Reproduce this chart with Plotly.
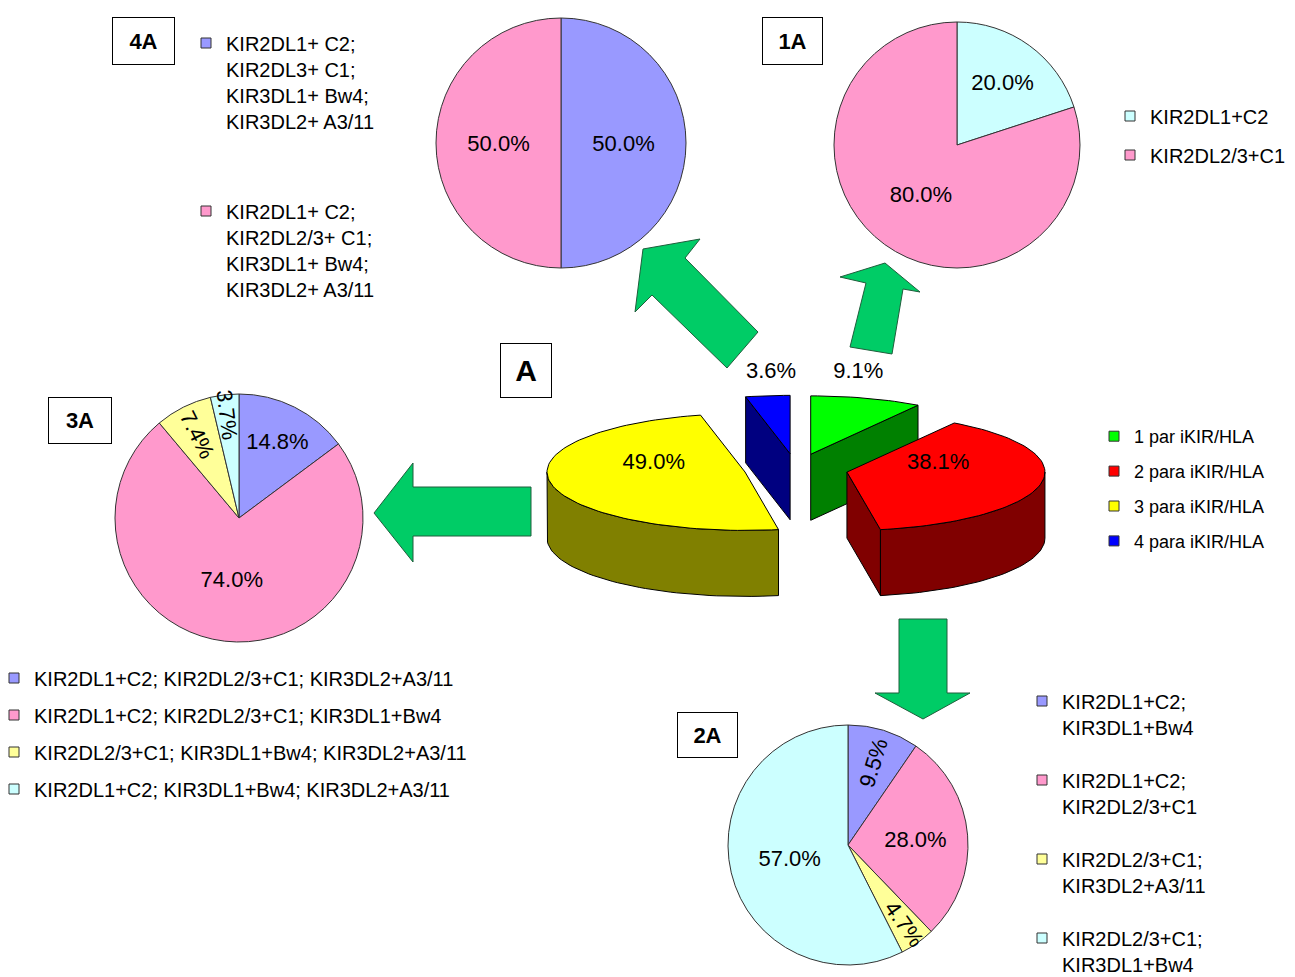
import math
import plotly.graph_objects as go

W, H = 1295, 977
OFF = 8   # page body margin in the viewer; positions below are in screen pixels
FONT = "Liberation Sans, Arial, sans-serif"

# ---------------- DATA ----------------
# Central chart A (number of inhibitory KIR/HLA pairs)
a_labels = ["1 par iKIR/HLA", "2 para iKIR/HLA", "3 para iKIR/HLA", "4 para iKIR/HLA"]
a_values = [9.1, 38.1, 49.0, 3.6]
a_top_colors = ["#00FF00", "#FF0000", "#FFFF00", "#0000FF"]
a_side_colors = ["#008000", "#800000", "#808000", "#000080"]

# 1A
p1_labels = ["KIR2DL1+C2", "KIR2DL2/3+C1"]
p1_values = [20.0, 80.0]
p1_colors = ["#CCFFFF", "#FF99CC"]

# 2A
p2_labels = ["KIR2DL1+C2;<br>KIR3DL1+Bw4",
             "KIR2DL1+C2;<br>KIR2DL2/3+C1",
             "KIR2DL2/3+C1;<br>KIR3DL2+A3/11",
             "KIR2DL2/3+C1;<br>KIR3DL1+Bw4"]
p2_values = [9.5, 28.0, 4.7, 57.0]
p2_colors = ["#9999FF", "#FF99CC", "#FFFF99", "#CCFFFF"]

# 3A
p3_labels = ["KIR2DL1+C2; KIR2DL2/3+C1; KIR3DL2+A3/11",
             "KIR2DL1+C2; KIR2DL2/3+C1; KIR3DL1+Bw4",
             "KIR2DL2/3+C1; KIR3DL1+Bw4; KIR3DL2+A3/11",
             "KIR2DL1+C2; KIR3DL1+Bw4; KIR3DL2+A3/11"]
p3_values = [14.8, 74.0, 7.4, 3.7]
p3_colors = ["#9999FF", "#FF99CC", "#FFFF99", "#CCFFFF"]

# 4A
p4_labels = ["KIR2DL1+ C2;<br>KIR2DL3+ C1;<br>KIR3DL1+ Bw4;<br>KIR3DL2+ A3/11",
             "KIR2DL1+ C2;<br>KIR2DL2/3+ C1;<br>KIR3DL1+ Bw4;<br>KIR3DL2+ A3/11"]
p4_values = [50.0, 50.0]
p4_colors = ["#9999FF", "#FF99CC"]

# ---------------- LAYOUT HELPERS ----------------
fig = go.Figure()


def pdom(cx, cy, r):
    return dict(x=[(cx - r - OFF) / W, (cx + r - OFF) / W],
                y=[1 - (cy + r - OFF) / H, 1 - (cy - r - OFF) / H])


def add_pie(values, colors, labels, cx, cy, r):
    big = [f"{v:.1f}%" if v >= 10 else "" for v in values]
    small = [f"{v:.1f}%" if v < 10 else "" for v in values]
    common = dict(values=values, labels=labels, sort=False, direction="clockwise",
                  rotation=0, domain=pdom(cx, cy, r), showlegend=False,
                  textinfo="text", textposition="inside",
                  textfont=dict(family=FONT, size=22, color="black"))
    fig.add_trace(go.Pie(marker=dict(colors=colors, line=dict(color="#333333", width=1)),
                         text=big, insidetextorientation="horizontal",
                         hoverinfo="label+value", **common))
    if any(small):
        fig.add_trace(go.Pie(marker=dict(colors=["rgba(0,0,0,0)"] * len(values),
                                         line=dict(width=0)),
                             text=small, insidetextorientation="radial",
                             hoverinfo="skip", **common))


def add_legend(names, colors, lid):
    for i, (n, c) in enumerate(zip(names, colors)):
        fig.add_trace(go.Scatter(x=[None], y=[None], mode="markers", name=n,
                                 marker=dict(symbol="square", size=10, color=c,
                                             line=dict(color="#333333", width=1)),
                                 legend=lid, legendgroup=f"{lid}_{i}", showlegend=True,
                                 hoverinfo="skip"))


def legend_cfg(text_x, first_y, size, gap, valign="middle", dy=19.5):
    return dict(x=(text_x - 38 - OFF) / W, y=1 - (first_y - dy - OFF) / H,
                xanchor="left", yanchor="top",
                bgcolor="rgba(0,0,0,0)", borderwidth=0,
                font=dict(family=FONT, size=size, color="black"),
                traceorder="grouped", tracegroupgap=gap, valign=valign,
                itemclick=False, itemdoubleclick=False)


# ---------------- CENTRAL 3D PIE (A) ----------------
CX, CY = 796, 469          # pixel centre
R, K, D, E = 198, 0.295, 66, 52   # radius, tilt, depth, explosion

tot = sum(a_values)
angles = []
acc = 0.0
for v in a_values:
    a1 = acc / tot * 360
    acc += v
    angles.append((a1, acc / tot * 360))


def ell(theta, r, ox, oy, dz=0.0):
    t = math.radians(theta)
    return ox + r * math.sin(t), oy - r * K * math.cos(t) + dz


def arc(a, b, ox, oy, dz=0.0):
    n = max(2, int(abs(b - a) / 2) + 2)
    return [ell(a + (b - a) * j / (n - 1), R, ox, oy, dz) for j in range(n)]


def poly_trace(pts, color, name):
    xs = [p[0] for p in pts] + [pts[0][0]]
    ys = [p[1] for p in pts] + [pts[0][1]]
    return go.Scatter(x=xs, y=ys, mode="lines", fill="toself", fillcolor=color,
                      line=dict(color="#000000", width=1), showlegend=False,
                      hoverinfo="text", text=name, hoveron="fills")


order = sorted(range(len(a_values)), key=lambda i: -math.cos(math.radians(sum(angles[i]) / 2)))
for i in order:
    a1, a2 = angles[i]
    mid = (a1 + a2) / 2
    ox, oy = ell(mid, E, CX, CY)
    name = f"{a_labels[i]}: {a_values[i]:.1f}%"
    if math.sin(math.radians(a1)) < -1e-6:
        p1 = ell(a1, R, ox, oy)
        fig.add_trace(poly_trace([(ox, oy), p1, (p1[0], p1[1] + D), (ox, oy + D)], a_side_colors[i], name))
    if math.sin(math.radians(a2)) > 1e-6:
        p2 = ell(a2, R, ox, oy)
        fig.add_trace(poly_trace([(ox, oy), p2, (p2[0], p2[1] + D), (ox, oy + D)], a_side_colors[i], name))
    b1, b2 = max(a1, 90), min(a2, 270)
    if b2 > b1:
        fig.add_trace(poly_trace(arc(b1, b2, ox, oy) + arc(b2, b1, ox, oy, D), a_side_colors[i], name))
    fig.add_trace(poly_trace([(ox, oy)] + arc(a1, a2, ox, oy), a_top_colors[i], name))

lx, ly, lt = [], [], []
for i, v in enumerate(a_values):
    a1, a2 = angles[i]
    mid = (a1 + a2) / 2
    ox, oy = ell(mid, E, CX, CY)
    if v >= 10:
        px, py = ell(mid, 0.47 * R, ox, oy)
        py -= 14
    else:
        px = ox + 0.85 * R * math.sin(math.radians(mid))
        py = CY - R * K - 38
    lx.append(px)
    ly.append(py)
    lt.append(f"{v:.1f}%")
fig.add_trace(go.Scatter(x=lx, y=ly, text=lt, mode="text", showlegend=False, hoverinfo="skip",
                         textfont=dict(family=FONT, size=22, color="black")))

# ---------------- SMALL PIES ----------------
add_pie(p4_values, p4_colors, p4_labels, 561, 143, 125)
add_pie(p1_values, p1_colors, p1_labels, 957, 145, 123)
add_pie(p3_values, p3_colors, p3_labels, 239, 518, 124)
add_pie(p2_values, p2_colors, p2_labels, 848, 845, 120)

# ---------------- LEGENDS ----------------
add_legend(p4_labels, p4_colors, "legend")
add_legend(p1_labels, p1_colors, "legend2")
add_legend(p3_labels, p3_colors, "legend3")
add_legend(p2_labels, p2_colors, "legend4")
add_legend(a_labels, a_top_colors, "legend5")

# ---------------- ARROWS (decorative) ----------------
arrow_paths = [
    [(643, 249), (700, 239), (685, 258), (758, 332), (727, 368), (652, 295), (635, 312)],
    [(885, 263), (920, 292), (903, 289), (892, 354), (850, 347), (866, 283), (840, 277)],
    [(374, 513), (413, 463), (413, 487), (531, 487), (531, 536), (413, 536), (413, 562)],
    [(923, 719), (875, 693), (899, 693), (899, 619), (947, 619), (947, 693), (970, 693)],
]
shapes = []
for pts in arrow_paths:
    path = "M " + " L ".join(f"{x},{y}" for x, y in pts) + " Z"
    shapes.append(dict(type="path", path=path, xref="x", yref="y",
                       fillcolor="#00CC66", line=dict(color="#1F5E3C", width=1), layer="above"))

# ---------------- BOX LABELS ----------------
boxes = [("4A", 143.5, 41, 63, 48, 22), ("1A", 792.5, 41, 61, 48, 22),
         ("3A", 80, 420.5, 64, 47, 22), ("2A", 707.5, 735, 61, 46, 22),
         ("A", 526, 370.5, 52, 55, 30)]
annotations = []
for t, x, y, w, h, s in boxes:
    annotations.append(dict(text=f"<b>{t}</b>", x=x, y=y, xref="x", yref="y", showarrow=False,
                            width=w - 2, height=h - 2, align="center", valign="middle",
                            bordercolor="#000000", borderwidth=1, borderpad=0, bgcolor="white",
                            font=dict(family=FONT, size=s, color="black")))

fig.update_layout(
    width=W, height=H, margin=dict(l=0, r=0, t=0, b=0, pad=0, autoexpand=False),
    paper_bgcolor="white", plot_bgcolor="white",
    xaxis=dict(range=[OFF, W + OFF], visible=False, fixedrange=True, domain=[0, 1]),
    yaxis=dict(range=[H + OFF, OFF], visible=False, fixedrange=True, domain=[0, 1]),
    showlegend=True,
    uniformtext=dict(minsize=22, mode="show"),
    legend=legend_cfg(224, 43, 20, 61, "top"),
    legend2=legend_cfg(1148, 116, 20, 10),
    legend3=legend_cfg(32, 678, 20, 8),
    legend4=legend_cfg(1060, 701, 20, 24, "top"),
    legend5=legend_cfg(1132, 436, 18, 8.5, dy=18),
    shapes=shapes, annotations=annotations,
)

fig.write_html("out.html")
